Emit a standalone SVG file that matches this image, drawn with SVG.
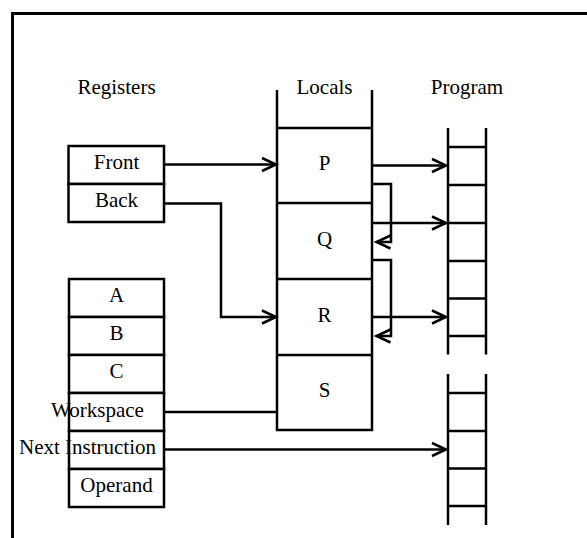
<svg xmlns="http://www.w3.org/2000/svg" width="587" height="538" viewBox="0 0 587 538">
<style>
  .t { font-family: "Liberation Serif", "Times New Roman", serif; font-size: 21px; fill: #000; }
  .m { text-anchor: middle; }
  .box { fill: #fff; stroke: #000; stroke-width: 2.5; }
  .ln { fill: none; stroke: #000; stroke-width: 2.5; }
  .frame { fill: none; stroke: #000; stroke-width: 3; }
  .conn { fill: none; stroke: #000; stroke-width: 2.5; marker-end: url(#arr); }
  .plain { fill: none; stroke: #000; stroke-width: 2.5; }
</style>
<defs>
  <marker id="arr" markerUnits="userSpaceOnUse" markerWidth="20" markerHeight="20" refX="16" refY="8" orient="auto" viewBox="0 0 20 16">
    <path d="M 2 1.5 L 16 8 L 2 14.5" fill="none" stroke="#000" stroke-width="2.5"/>
  </marker>
</defs>
<rect width="587" height="538" fill="#fff"/>
<path class="frame" d="M 12.5 538 V 13.5 H 587"/>

<g id="titles">
  <text class="t m" x="116.5" y="94">Registers</text>
  <text class="t m" x="324.5" y="94">Locals</text>
  <text class="t m" x="467" y="94">Program</text>
</g>

<g id="reg-front">
  <rect class="box" x="68.5" y="146" width="95.5" height="38"/>
  <text class="t m" x="116.5" y="169">Front</text>
</g>
<g id="reg-back">
  <rect class="box" x="68.5" y="184" width="95.5" height="38"/>
  <text class="t m" x="116.5" y="207">Back</text>
</g>

<g id="reg-a">
  <rect class="box" x="69" y="279" width="95" height="38"/>
  <text class="t m" x="116.5" y="302">A</text>
</g>
<g id="reg-b">
  <rect class="box" x="69" y="317" width="95" height="38"/>
  <text class="t m" x="116.5" y="340">B</text>
</g>
<g id="reg-c">
  <rect class="box" x="69" y="355" width="95" height="38"/>
  <text class="t m" x="116.5" y="378">C</text>
</g>
<g id="reg-workspace">
  <rect class="box" x="69" y="393" width="95" height="38"/>
  <text class="t m" x="97.5" y="416.5">Workspace</text>
</g>
<g id="reg-next">
  <rect class="box" x="69" y="431" width="95" height="38"/>
  <text class="t m" x="87.5" y="453.5">Next Instruction</text>
</g>
<g id="reg-operand">
  <rect class="box" x="69" y="469" width="95" height="38"/>
  <text class="t m" x="116.5" y="492">Operand</text>
</g>

<g id="locals">
  <path class="ln" d="M 277 90 V 430 H 372 V 90"/>
  <path class="ln" d="M 277 128 H 372 M 277 203 H 372 M 277 279 H 372 M 277 355 H 372"/>
</g>
<g id="local-p"><text class="t m" x="324.5" y="170">P</text></g>
<g id="local-q"><text class="t m" x="324.5" y="245.5">Q</text></g>
<g id="local-r"><text class="t m" x="324.5" y="321.5">R</text></g>
<g id="local-s"><text class="t m" x="324.5" y="397">S</text></g>

<g id="program-1">
  <path class="ln" d="M 448 128 V 354.5 M 486 128 V 354.5"/>
  <path class="ln" d="M 448 147 H 486 M 448 185 H 486 M 448 223 H 486 M 448 261 H 486 M 448 298.5 H 486 M 448 336 H 486"/>
</g>
<g id="program-2">
  <path class="ln" d="M 448 374 V 525 M 486 374 V 525"/>
  <path class="ln" d="M 448 393 H 486 M 448 431 H 486 M 448 468.5 H 486 M 448 506 H 486"/>
</g>

<g id="connectors">
  <path class="conn" d="M 164 164.5 H 276"/>
  <path class="conn" d="M 164 203.5 H 221 V 317 H 276"/>
  <path class="conn" d="M 372 165.5 H 446"/>
  <path class="conn" d="M 372 184 H 391 V 242 H 376.5"/>
  <path class="conn" d="M 372 223 H 446"/>
  <path class="conn" d="M 372 260 H 391 V 336 H 376.5"/>
  <path class="conn" d="M 372 317 H 446"/>
  <path class="plain" d="M 164 412 H 277"/>
  <path class="conn" d="M 164 449.5 H 446"/>
</g>
</svg>
